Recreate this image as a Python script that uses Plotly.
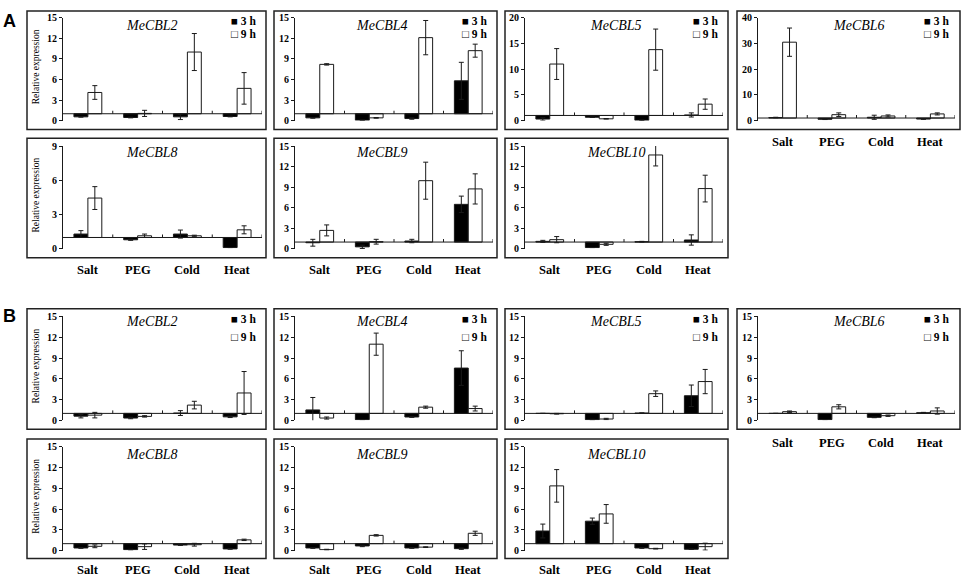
import plotly.graph_objects as go

# ---------------- data ----------------
categories = ["Salt", "PEG", "Cold", "Heat"]
series_names = ["3 h", "9 h"]

ticks_15 = [0, 3, 6, 9, 12, 15]
ticks_20 = [0, 5, 10, 15, 20]
ticks_40 = [0, 10, 20, 30, 40]
ticks_9 = [0, 3, 6, 9]

# Panel A
A_CBL2_3h = [0.55, 0.45, 0.55, 0.6]
A_CBL2_3h_sd = [0.05, 0.05, 0.4, 0.05]
A_CBL2_9h = [4.1, 1.05, 10.0, 4.7]
A_CBL2_9h_sd = [1.0, 0.45, 2.7, 2.3]

A_CBL4_3h = [0.4, 0.05, 0.3, 5.8]
A_CBL4_3h_sd = [0.05, 0.0, 0.1, 2.7]
A_CBL4_9h = [8.2, 0.4, 12.1, 10.2]
A_CBL4_9h_sd = [0.1, 0.05, 2.5, 0.95]

A_CBL5_3h = [0.3, 0.65, 0.05, 1.1]
A_CBL5_3h_sd = [0.25, 0.05, 0.05, 0.4]
A_CBL5_9h = [11.0, 0.35, 13.8, 3.2]
A_CBL5_9h_sd = [3.0, 0.05, 4.0, 1.0]

A_CBL6_3h = [1.2, 0.5, 1.3, 0.6]
A_CBL6_3h_sd = [0.1, 0.1, 0.8, 0.1]
A_CBL6_9h = [30.5, 2.3, 1.8, 2.6]
A_CBL6_9h_sd = [5.5, 0.7, 0.4, 0.4]

A_CBL8_3h = [1.3, 0.8, 1.3, 0.12]
A_CBL8_3h_sd = [0.3, 0.05, 0.35, 0.0]
A_CBL8_9h = [4.45, 1.15, 1.15, 1.67]
A_CBL8_9h_sd = [1.0, 0.15, 0.05, 0.35]

A_CBL9_3h = [0.9, 0.3, 1.15, 6.5]
A_CBL9_3h_sd = [0.5, 0.25, 0.25, 1.2]
A_CBL9_9h = [2.7, 1.05, 9.95, 8.75]
A_CBL9_9h_sd = [0.8, 0.35, 2.7, 2.2]

A_CBL10_3h = [1.1, 0.2, 1.05, 1.3]
A_CBL10_3h_sd = [0.15, 0.0, 0.05, 0.75]
A_CBL10_9h = [1.35, 0.67, 13.7, 8.8]
A_CBL10_9h_sd = [0.45, 0.15, 1.6, 1.95]

# Panel B
B_CBL2_3h = [0.6, 0.33, 1.05, 0.5]
B_CBL2_3h_sd = [0.25, 0.1, 0.35, 0.1]
B_CBL2_9h = [0.75, 0.57, 2.2, 3.95]
B_CBL2_9h_sd = [0.4, 0.1, 0.55, 3.1]

B_CBL4_3h = [1.5, 0.1, 0.48, 7.55]
B_CBL4_3h_sd = [1.8, 0.0, 0.05, 2.5]
B_CBL4_9h = [0.33, 11.0, 1.9, 1.7]
B_CBL4_9h_sd = [0.15, 1.6, 0.15, 0.35]

B_CBL5_3h = [1.0, 0.1, 1.05, 3.55]
B_CBL5_3h_sd = [0.0, 0.05, 0.0, 1.55]
B_CBL5_9h = [0.95, 0.19, 3.85, 5.6]
B_CBL5_9h_sd = [0.05, 0.1, 0.4, 1.75]

B_CBL6_3h = [1.0, 0.1, 0.43, 1.1]
B_CBL6_3h_sd = [0.0, 0.0, 0.05, 0.05]
B_CBL6_9h = [1.25, 1.95, 0.67, 1.35]
B_CBL6_9h_sd = [0.1, 0.3, 0.1, 0.45]

B_CBL8_3h = [0.38, 0.14, 0.8, 0.24]
B_CBL8_3h_sd = [0.05, 0.05, 0.05, 0.05]
B_CBL8_9h = [0.62, 0.57, 0.85, 1.55]
B_CBL8_9h_sd = [0.2, 0.4, 0.2, 0.1]

B_CBL9_3h = [0.38, 0.67, 0.38, 0.28]
B_CBL9_3h_sd = [0.05, 0.1, 0.05, 0.1]
B_CBL9_9h = [0.14, 2.2, 0.5, 2.5]
B_CBL9_9h_sd = [0.05, 0.1, 0.05, 0.3]

B_CBL10_3h = [2.83, 4.25, 0.38, 0.19]
B_CBL10_3h_sd = [1.0, 0.45, 0.05, 0.0]
B_CBL10_9h = [9.35, 5.3, 0.28, 0.57]
B_CBL10_9h_sd = [2.35, 1.35, 0.05, 0.5]

# (gene, 3h, 3h_sd, 9h, 9h_sd, ticks, column, row)
panels = [
    ("MeCBL2", A_CBL2_3h, A_CBL2_3h_sd, A_CBL2_9h, A_CBL2_9h_sd, ticks_15, 1, "A1"),
    ("MeCBL4", A_CBL4_3h, A_CBL4_3h_sd, A_CBL4_9h, A_CBL4_9h_sd, ticks_15, 2, "A1"),
    ("MeCBL5", A_CBL5_3h, A_CBL5_3h_sd, A_CBL5_9h, A_CBL5_9h_sd, ticks_20, 3, "A1"),
    ("MeCBL6", A_CBL6_3h, A_CBL6_3h_sd, A_CBL6_9h, A_CBL6_9h_sd, ticks_40, 4, "A1"),
    ("MeCBL8", A_CBL8_3h, A_CBL8_3h_sd, A_CBL8_9h, A_CBL8_9h_sd, ticks_9, 1, "A2"),
    ("MeCBL9", A_CBL9_3h, A_CBL9_3h_sd, A_CBL9_9h, A_CBL9_9h_sd, ticks_15, 2, "A2"),
    ("MeCBL10", A_CBL10_3h, A_CBL10_3h_sd, A_CBL10_9h, A_CBL10_9h_sd, ticks_15, 3, "A2"),
    ("MeCBL2", B_CBL2_3h, B_CBL2_3h_sd, B_CBL2_9h, B_CBL2_9h_sd, ticks_15, 1, "B1"),
    ("MeCBL4", B_CBL4_3h, B_CBL4_3h_sd, B_CBL4_9h, B_CBL4_9h_sd, ticks_15, 2, "B1"),
    ("MeCBL5", B_CBL5_3h, B_CBL5_3h_sd, B_CBL5_9h, B_CBL5_9h_sd, ticks_15, 3, "B1"),
    ("MeCBL6", B_CBL6_3h, B_CBL6_3h_sd, B_CBL6_9h, B_CBL6_9h_sd, ticks_15, 4, "B1"),
    ("MeCBL8", B_CBL8_3h, B_CBL8_3h_sd, B_CBL8_9h, B_CBL8_9h_sd, ticks_15, 1, "B2"),
    ("MeCBL9", B_CBL9_3h, B_CBL9_3h_sd, B_CBL9_9h, B_CBL9_9h_sd, ticks_15, 2, "B2"),
    ("MeCBL10", B_CBL10_3h, B_CBL10_3h_sd, B_CBL10_9h, B_CBL10_9h_sd, ticks_15, 3, "B2"),
]

# ---------------- layout geometry (pixels) ----------------
W, H = 964, 585
def px(x):
    return x / W
def py(y):
    return 1 - y / H

COLS = {1: dict(box=(27, 266), plot=(63, 262), title=152, leg=229),
        2: dict(box=(274, 497), plot=(295, 493), title=382, leg=460),
        3: dict(box=(505, 728), plot=(525, 723), title=616, leg=691),
        4: dict(box=(737, 960), plot=(758, 955), title=859, leg=922)}
ROWS = {"A1": dict(box=(5, 126), plot=(12, 117), title=20, leg=(15, 29), lab=139),
        "A2": dict(box=(135, 257), plot=(143, 248), title=150, leg=None, lab=270),
        "B1": dict(box=(309, 432), plot=(317, 423), title=322, leg=(320, 338), lab=446),
        "B2": dict(box=(442, 564), plot=(450, 556), title=458, leg=None, lab=576)}
# panels with category labels below
label_below = {("A2", 1), ("A2", 2), ("A2", 3), ("A1", 4),
               ("B2", 1), ("B2", 2), ("B2", 3), ("B1", 4)}

SERIF = "Liberation Serif"
INK = "#1a1a1a"

fig = go.Figure()
shapes, annotations = [], []
layout_axes = {}

for i, (gene, v3, s3, v9, s9, ticks, col, row) in enumerate(panels, start=1):
    xa = "x" if i == 1 else f"x{i}"
    ya = "y" if i == 1 else f"y{i}"
    c, r = COLS[col], ROWS[row]

    for vals, sds, name, fill in ((v3, s3, series_names[0], "black"),
                                  (v9, s9, series_names[1], "white")):
        fig.add_trace(go.Bar(
            x=categories, y=[v - 1 for v in vals], base=1, name=name,
            marker=dict(color=fill, line=dict(color=INK, width=1)),
            error_y=dict(type="data", array=sds, color=INK, thickness=1, width=2.5),
            xaxis=xa, yaxis=ya, showlegend=False,
            hovertemplate="%{x}: %{customdata}<extra>" + name + "</extra>",
            customdata=vals,
        ))

    layout_axes["xaxis" if i == 1 else f"xaxis{i}"] = dict(
        domain=[px(c["plot"][0]), px(c["plot"][1])], anchor=ya,
        type="category", range=[-0.5, 3.5], showticklabels=False,
        showline=False, showgrid=False, zeroline=False, ticks="", fixedrange=True)
    layout_axes["yaxis" if i == 1 else f"yaxis{i}"] = dict(
        domain=[py(r["plot"][1]), py(r["plot"][0])], anchor=xa,
        range=[0, ticks[-1]], tickvals=ticks, showline=True, linecolor=INK,
        linewidth=1, ticks="outside", ticklen=3, tickwidth=1, tickcolor=INK,
        showgrid=False, zeroline=False, fixedrange=True,
        tickfont=dict(family=SERIF, size=10, color="black", weight="bold"))

    # category axis line crossing at 1
    shapes.append(dict(type="line", xref=f"{xa} domain", x0=0, x1=1, yref=ya, y0=1, y1=1,
                       line=dict(color=INK, width=1)))
    for k in range(len(categories)):
        shapes.append(dict(type="line", xref=xa, x0=k + 0.5, x1=k + 0.5, yref=ya,
                           ysizemode="pixel", yanchor=1, y0=0, y1=3,
                           line=dict(color=INK, width=1)))
    # panel frame
    shapes.append(dict(type="rect", xref="paper", yref="paper",
                       x0=px(c["box"][0]), x1=px(c["box"][1]),
                       y0=py(r["box"][1]), y1=py(r["box"][0]),
                       line=dict(color="#222", width=1.5), fillcolor="rgba(0,0,0,0)",
                       layer="above"))
    # gene title
    annotations.append(dict(text=gene, xref="paper", yref="paper",
                            x=px(c["title"]), y=py(r["title"]),
                            xanchor="center", yanchor="middle", showarrow=False,
                            font=dict(family=SERIF, size=14, color="black", style="italic")))
    # y title
    if col == 1:
        annotations.append(dict(text="Relative expression", xref="paper", yref="paper",
                                x=px(36), y=py((r["plot"][0] + r["plot"][1]) / 2 - 2),
                                textangle=-90, xanchor="center", yanchor="middle",
                                showarrow=False,
                                font=dict(family=SERIF, size=9.5, color="black")))
    # legend keys
    if r["leg"] is not None:
        for sym, name, yy in (("\u25A0", series_names[0], r["leg"][0]),
                              ("\u25A1", series_names[1], r["leg"][1])):
            annotations.append(dict(text=f"{sym} {name}", xref="paper", yref="paper",
                                    x=px(c["leg"]), y=py(yy), xanchor="left",
                                    yanchor="middle", showarrow=False,
                                    font=dict(family=SERIF, size=11.5, color="black",
                                              weight="bold")))
    # category labels
    if (row, col) in label_below:
        for cat in categories:
            annotations.append(dict(text=cat, xref=xa, yref="paper", x=cat,
                                    y=py(r["lab"]), xanchor="center",
                                    yanchor="middle", showarrow=False,
                                    font=dict(family=SERIF, size=12.5, color="black",
                                              weight="bold")))

# section letters
for letter, yy in (("A", 15), ("B", 317)):
    annotations.append(dict(text=letter, xref="paper", yref="paper", x=px(9), y=py(yy),
                            xanchor="center", yanchor="middle", showarrow=False,
                            font=dict(family="Liberation Sans", size=18, color="black",
                                      weight="bold")))

fig.update_layout(
    width=W, height=H, margin=dict(l=0, r=0, t=0, b=0),
    paper_bgcolor="white", plot_bgcolor="white",
    barmode="group", bargap=0.44, bargroupgap=0,
    showlegend=False, shapes=shapes, annotations=annotations,
    **layout_axes,
)

fig.write_html("out.html", config={"displayModeBar": False},
               post_script="document.body.style.margin='0';document.body.style.overflow='hidden';")
